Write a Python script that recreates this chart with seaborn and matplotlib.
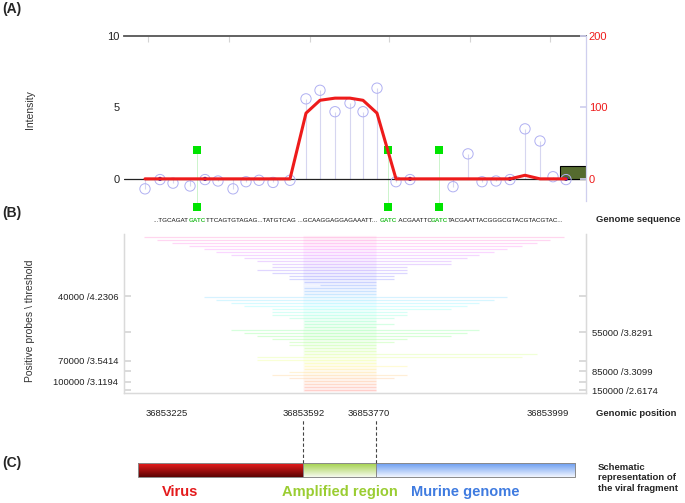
import numpy as np
import seaborn as sns
import matplotlib.pyplot as plt
from matplotlib.colors import LinearSegmentedColormap
from matplotlib.patches import Rectangle
from matplotlib.transforms import blended_transform_factory

# ---- panel A : probe intensities along the fragment ----
probe_pos = [21, 36, 49, 66, 81, 94, 109, 122, 135, 149, 166,
             182, 196, 211, 226, 239, 253,
             272, 286, 329, 344, 358, 372, 386, 401, 416, 429, 442]
probe_int = [-0.7, -0.05, -0.3, -0.5, -0.05, -0.15, -0.7, -0.2, -0.1, -0.25, -0.1,
             5.6, 6.2, 4.7, 5.3, 4.7, 6.35,
             -0.2, -0.05, -0.55, 1.75, -0.2, -0.15, -0.05, 3.5, 2.65, 0.15, -0.05]
probe_smooth = [0, 0, 0, 0, 0, 0, 0, 0, 0, 0, 0,
                92, 110, 113, 113, 110, 92,
                0, 0, 0, 0, 0, 0, 0, 5, 0, 0, 0]
flagged_probes = [36, 81, 286, 386, 442]
flagged_level = 0
gatc_sites = [73, 264, 315]
gatc_mark = 2.0
box_start, box_end, box_height = 436, 462, 0.9
top_ticks = [24, 105, 186, 265, 346, 426]

# ---- genome sequence ----
seq_left = '...TGCAGAT'
seq_mid = 'TTCAGTGTAGAG...TATGTCAG ...GCAAGGAGGAGAAATT... '
seq_mid2 = ' ACGAATTC'
seq_right = 'TACGAATTACGGGCGTACGTACGTAC...'

# ---- panel B : positive probes per threshold level ----
levels = list(range(51, -1, -1))
row_start = [20, 33, 48, 65, 80, 92, 107, 120, 133, 148, 148, 133, 148, 165, 165, 180, 196, 180, 180, 180,
             80, 92, 107, 120, 148, 148, 148, 165, 180, 180, 180,
             107, 120, 133, 148, 165, 165, 180, 180, 180, 133, 133,
             180, 180, 180, 165, 148, 165, 180, 180, 180, 180]
row_end = [440, 426, 413, 398, 383, 370, 355, 343, 327, 327, 283, 283, 283, 270, 270, 252, 252, 252, 252, 252,
           383, 370, 355, 343, 327, 283, 283, 270, 252, 270, 252,
           355, 343, 327, 283, 270, 252, 252, 252, 413, 398, 252,
           252, 283, 252, 252, 283, 270, 252, 252, 252, 252]
level_ticks = [31.3, 19.3, 9.7, 6.3, 2.8, 0]
left_labels = ['40000 /4.2306', '', '70000 /3.5414', '', '100000 /3.1194', '']
right_labels = ['', '55000 /3.8291', '', '85000 /3.3099', '', '150000 /2.6174']
genomic_labels = ['36853225', '36853592', '36853770', '36853999']
genomic_label_pos = [43, 179.5, 244.5, 424]

# ---- panel C : schematic ----
region_bounds = [14, 179, 252, 451]
region_names = ['Virus', 'Amplified region', 'Murine genome']
region_label_pos = [56, 216, 341]
region_text_colors = ['#e41a1c', '#9acd32', '#3f7be0']
region_top = ['#ea1c1c', '#a2d04a', '#6a9cf0']
region_bottom = ['#5c0404', '#f6faee', '#f2f6ff']

sns.set_theme(style='white')
plt.rcParams['font.family'] = ['Liberation Sans', 'DejaVu Sans']

W, H = 685, 503
fig = plt.figure(figsize=(6.85, 5.03), dpi=100)


def box(x0, y0, x1, y1):
    return [x0 / W, 1 - y1 / H, (x1 - x0) / W, (y1 - y0) / H]


# ================= panel A =================
axA = fig.add_axes(box(124, 36, 586, 201))
axA.vlines(probe_pos, 0, probe_int, color='#d6d6f0', lw=0.8, zorder=1)
axA.vlines(gatc_sites, -gatc_mark, gatc_mark, color='#c4f2c4', lw=0.6, zorder=1, clip_on=False)
axA.axhline(0, color='#222222', lw=0.9, zorder=2)
axA.bar((box_start + box_end) / 2, box_height, width=box_end - box_start,
        color='#556b2f', edgecolor='black', lw=0.8, zorder=2)
sns.scatterplot(x=probe_pos, y=probe_int, ax=axA, s=55, color='#b0b0f2',
                facecolor='none', edgecolor='#b0b0f2', linewidth=0.7, zorder=3)
sns.scatterplot(x=flagged_probes, y=[flagged_level] * len(flagged_probes), ax=axA,
                s=9, color='#2323c8', edgecolor='none', zorder=4)
for sign in (1, -1):
    sns.scatterplot(x=gatc_sites, y=[sign * gatc_mark] * len(gatc_sites), ax=axA,
                    marker='s', s=34, color='#00e400', edgecolor='none', zorder=4, clip_on=False)
axA.set_xlim(0, 462)
axA.set_ylim(-1.55, 10)
axA.set_xlabel('')
axA.set_ylabel('')
for s in ['left', 'right', 'bottom']:
    axA.spines[s].set_visible(False)
axA.spines['top'].set_color('#555555')
axA.spines['top'].set_linewidth(1.3)
axA.set_yticks([0, 5, 10])
axA.set_yticklabels(['0', '5', '10'], fontsize=8, color='#222222')
axA.tick_params(axis='y', length=0, pad=3)
axA.xaxis.tick_top()
axA.set_xticks(top_ticks)
axA.set_xticklabels([])
axA.tick_params(axis='x', direction='in', length=4, color='#d4d4d4', width=0.8)

ax2 = axA.twinx()
sns.lineplot(x=probe_pos, y=probe_smooth, ax=ax2, color='#ee1b1b', lw=2.2)
ax2.set_ylim(-31, 200)
ax2.set_yticks([0, 100, 200])
ax2.set_yticklabels(['0', '100', '200'], fontsize=8)
ax2.tick_params(axis='y', direction='in', length=4, color='#cfcfee', pad=2, labelcolor='#ee1b1b')
ax2.set_ylabel('')
for s in ['left', 'top', 'bottom']:
    ax2.spines[s].set_visible(False)
ax2.spines['right'].set_color('#cfcfee')
ax2.spines['right'].set_linewidth(0.9)

# genome sequence, GATC sites centred on the green marks
seq_tr = blended_transform_factory(axA.transData, fig.transFigure)
seq_y = 1 - 220 / H
seq_kw = dict(fontsize=4.5, va='center')
gatc_txt = [axA.text(x, seq_y, 'GATC', transform=seq_tr, ha='center', color='#2fbf2f',
                     weight='bold', **seq_kw) for x in gatc_sites]
axA.annotate(seq_left, xy=(0, 0.5), xycoords=gatc_txt[0], ha='right', color='#111111', **seq_kw)
axA.annotate(seq_mid, xy=(1, 0.5), xycoords=gatc_txt[0], ha='left', color='#111111', **seq_kw)
axA.annotate(seq_mid2, xy=(1, 0.5), xycoords=gatc_txt[1], ha='left', color='#111111', **seq_kw)
axA.annotate(seq_right, xy=(1, 0.5), xycoords=gatc_txt[2], ha='left', color='#111111', **seq_kw)

# ================= panel B =================
axB = fig.add_axes(box(124, 234, 586, 393))
pal = sns.color_palette('hsv', 56)
row_colors = [pal[l] for l in levels]
axB.hlines(levels, row_start, row_end, colors=row_colors, alpha=0.16, lw=0.9)
axB.hlines(levels, region_bounds[1], region_bounds[2], colors=row_colors, alpha=0.05, lw=2.4)
axB.set_xlim(0, 462)
axB.set_ylim(-1, 52)
axB.set_xticks(probe_pos)
axB.set_xticklabels([])
axB.tick_params(axis='x', direction='in', length=4, color='#dcdcdc', width=0.8)
axB.set_yticks(level_ticks)
axB.set_yticklabels(left_labels, fontsize=6.8, color='#222222')
axB.tick_params(axis='y', direction='in', length=5, color='#d6d6d6', pad=4)
axB2 = axB.twinx()
axB2.set_ylim(-1, 52)
axB2.set_yticks(level_ticks)
axB2.set_yticklabels(right_labels, fontsize=6.8, color='#222222')
axB2.tick_params(axis='y', direction='in', length=5, color='#d6d6d6', pad=4)
for a in (axB, axB2):
    a.spines['top'].set_visible(False)
    for s in ['left', 'right', 'bottom']:
        a.spines[s].set_color('#dadada')
        a.spines[s].set_linewidth(0.9)
gtr = blended_transform_factory(axB.transData, axB.transAxes)
for x, lab in zip(genomic_label_pos, genomic_labels):
    axB.text(x, -0.126, lab, transform=gtr, ha='center', va='center', fontsize=6.8, color='#222222')

# ================= panel C =================
axC = fig.add_axes(box(124, 420, 586, 503))
grad = np.linspace(0, 1, 64).reshape(-1, 1)
for i in range(3):
    x0, x1 = region_bounds[i], region_bounds[i + 1]
    cmap = LinearSegmentedColormap.from_list('seg%d' % i, [region_bottom[i], region_top[i]])
    axC.imshow(grad, extent=[x0, x1, 26, 40], origin='lower', cmap=cmap, aspect='auto')
    axC.add_patch(Rectangle((x0, 26), x1 - x0, 14, fill=False, edgecolor='#8a8a8a', lw=0.7))
    axC.text(region_label_pos[i], 11, region_names[i], color=region_text_colors[i], fontsize=10.5,
             weight='bold', ha='center', va='center')
axC.vlines(region_bounds[1:3], 40, 83, colors='#444444', linestyles=(0, (3, 2)), lw=0.8)
axC.set_xlim(0, 462)
axC.set_ylim(0, 83)
axC.axis('off')

# ================= labels =================
fig.text(2 / W, 1 - 9 / H, '(A)', fontsize=10, weight='bold', va='center')
fig.text(2 / W, 1 - 213 / H, '(B)', fontsize=10, weight='bold', va='center')
fig.text(2 / W, 1 - 463 / H, '(C)', fontsize=10, weight='bold', va='center')
fig.text(30 / W, 1 - 110 / H, 'Intensity', rotation=90, fontsize=7.5, color='#333333',
         ha='center', va='center')
fig.text(30 / W, 1 - 321 / H, 'Positive probes \\ threshold', rotation=90, fontsize=7.5,
         color='#333333', ha='center', va='center')
fig.text(596 / W, 1 - 220 / H, 'Genome sequence', fontsize=6.8, weight='bold', va='center')
fig.text(596 / W, 1 - 413 / H, 'Genomic position', fontsize=6.8, weight='bold', va='center')
fig.text(598 / W, 1 - 478 / H, 'Schematic\nrepresentation of\nthe viral fragment', fontsize=6.8,
         weight='bold', va='center', linespacing=1.25)

fig.savefig('out.png', dpi=100)
